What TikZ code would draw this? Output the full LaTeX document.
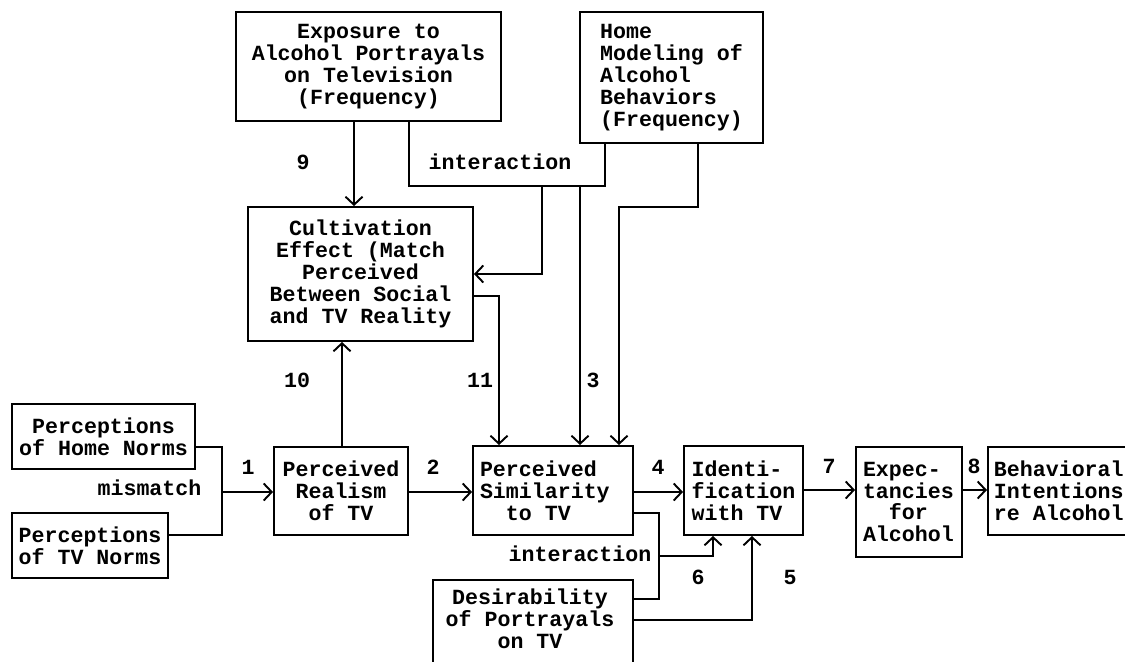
\documentclass[tikz,border=0pt]{standalone}
\usepackage{fontspec}
\newfontfamily\twfont{Liberation Mono}
\usetikzlibrary{arrows.meta}
\tikzset{
  boxnode/.style={draw, line width=1.1pt, inner sep=0pt, align=center,
    font=\twfont\bfseries\fontsize{12.3}{12.5}\selectfont},
  txt/.style={inner sep=0pt, align=center, font=\twfont\bfseries\fontsize{12.3}{12.5}\selectfont},
  lbl/.style={inner sep=0pt, font=\twfont\bfseries\fontsize{12.3}{12.5}\selectfont},
  conn/.style={line width=1.1pt},
  arr/.style={line width=1.1pt, -{Straight Barb[length=1.6mm,width=3.4mm,line width=1.1pt]}}
}
\begin{document}
\begin{tikzpicture}[x=0.02cm,y=-0.02cm]
\useasboundingbox (0,0) rectangle (1125,662);
\clip (0,0) rectangle (1125,662);

% boxes
\node[boxnode, minimum width=5.30cm, minimum height=2.18cm] (exp) at (368.5,66.5) {Exposure to\\Alcohol Portrayals\\on Television\\(Frequency)};
\node[boxnode, align=left, minimum width=3.66cm, minimum height=2.62cm] (home) at (671.5,77.5) {Home\\Modeling of\\Alcohol\\Behaviors\\(Frequency)};
\node[boxnode, minimum width=4.50cm, minimum height=2.68cm] (cult) at (360.5,274) {Cultivation\\Effect (Match\\Perceived\\Between Social\\and TV Reality};
\node[boxnode, minimum width=3.66cm, minimum height=1.30cm] (hn) at (103.5,436.5) {Perceptions\\of Home Norms};
\node[boxnode, minimum width=3.12cm, minimum height=1.30cm] (tn) at (90,545.5) {Perceptions\\of TV Norms};
\node[boxnode, minimum width=2.68cm, minimum height=1.76cm] (real) at (341,491) {Perceived\\Realism\\of TV};
\node[boxnode, align=left, text width=2.92cm, inner xsep=0.14cm, minimum height=1.78cm] (sim) at (553,490.5) {Perceived\\Similarity\\\hphantom{Si}to\hphantom{x}TV};
\node[boxnode, align=left, minimum width=2.38cm, minimum height=1.78cm] (iden) at (743.5,490.5) {Identi-\\fication\\with TV};
\node[boxnode, align=left, text width=1.84cm, inner xsep=0.14cm, minimum height=2.20cm] (expc) at (909,502) {Expec-\\tancies\\\hphantom{ta}for\\Alcohol};
\node[boxnode, align=left, anchor=west, text width=3.8cm, inner xsep=0.12cm, minimum height=1.76cm] (beh) at (987,491) {Behavioral\\Intentions\\re\hphantom{x}Alcohol};
\node[boxnode, minimum width=4.0cm, minimum height=2.4cm, anchor=north] (des) at (533,579) {};
\node[txt] (dest) at (530,619) {Desirability\\of Portrayals\\on TV};

% coordinates
\coordinate (c9) at (354,0);
\coordinate (ia) at (409,186);
\coordinate (ib) at (605,186);
\coordinate (ic) at (542,186);
\coordinate (id) at (542,274);
\coordinate (ie) at (580,186);
\coordinate (h1) at (698,207);
\coordinate (h2) at (619,207);
\coordinate (k1) at (499,296);
\coordinate (r1) at (342,0);
\coordinate (m1) at (222,447);
\coordinate (m2) at (222,535);
\coordinate (m3) at (222,492);
\coordinate (s1) at (659,513);
\coordinate (s2) at (659,599);
\coordinate (s3) at (659,556);
\coordinate (s4) at (713,556);
\coordinate (d1) at (752,620);
\coordinate (e1) at (0,490);

% connectors
\draw[arr] (exp.south -| c9) -- (cult.north -| c9);
\draw[conn] (exp.south -| ia) -- (ia) -- (ib) -- (home.south -| ib);
\draw[arr] (ic) -- (id) -- (cult.east |- id);
\draw[arr] (ie) -- (sim.north -| ie);
\draw[arr] (home.south -| h1) -- (h1) -- (h2) -- (sim.north -| h2);
\draw[arr] (cult.east |- k1) -- (k1) -- (sim.north -| k1);
\draw[arr] (real.north -| r1) -- (cult.south -| r1);
\draw[conn] (hn.east |- m1) -- (m1) -- (m2) -- (tn.east |- m2);
\draw[arr] (m3) -- (real.west |- m3);
\draw[arr] (real.east |- m3) -- (sim.west |- m3);
\draw[arr] (sim.east |- m3) -- (iden.west |- m3);
\draw[conn] (sim.east |- s1) -- (s1) -- (s2) -- (des.east |- s2);
\draw[arr] (s3) -- (s4) -- (iden.south -| s4);
\draw[arr] (des.east |- d1) -- (d1) -- (iden.south -| d1);
\draw[arr] (iden.east |- e1) -- (expc.west |- e1);
\draw[arr] (expc.east |- e1) -- (beh.west |- e1);

% labels
\node[lbl] (l9) at (303,162) {9};
\node[lbl] (lint1) at (500,162) {interaction};
\node[lbl] (l10) at (297,380) {10};
\node[lbl] (l11) at (480,380) {11};
\node[lbl] (l3) at (593,380) {3};
\node[lbl] (l1) at (248,467) {1};
\node[lbl] (lmis) at (149.5,488) {mismatch};
\node[lbl] (l2) at (433,467) {2};
\node[lbl] (l4) at (658,467) {4};
\node[lbl] (lint2) at (580,554) {interaction};
\node[lbl] (l6) at (698,577) {6};
\node[lbl] (l5) at (790,577) {5};
\node[lbl] (l7) at (829,466) {7};
\node[lbl] (l8) at (974,466) {8};
\end{tikzpicture}
\end{document}
